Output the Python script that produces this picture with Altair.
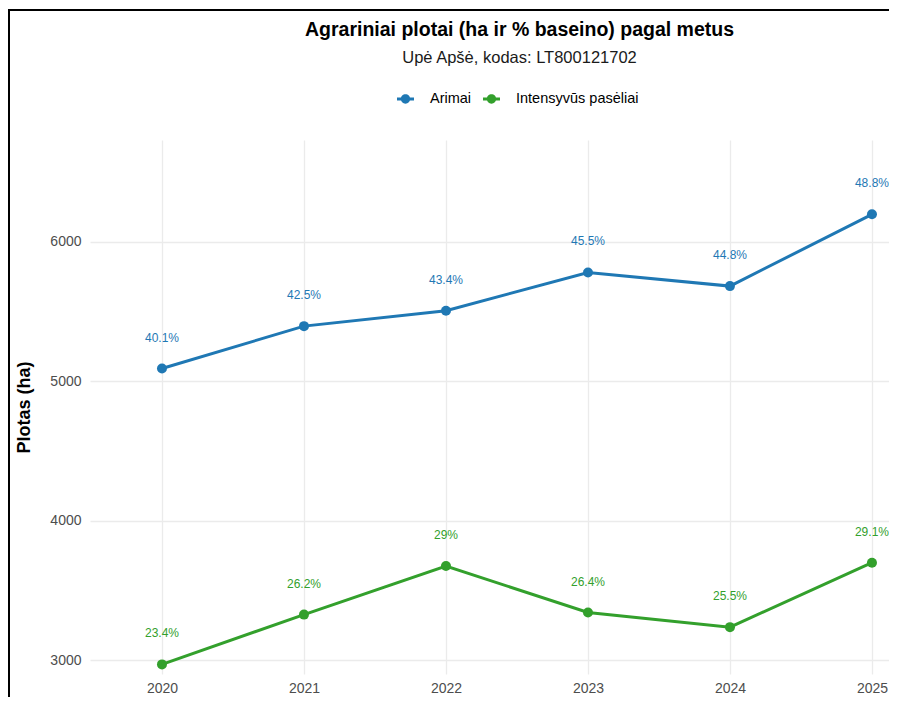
import altair as alt
import pandas as pd

# ---- data ----
years = [2020, 2021, 2022, 2023, 2024, 2025]
arimai_ha = [5091, 5395, 5505, 5780, 5682, 6197]
intensyvus_ha = [2969, 3326, 3674, 3341, 3236, 3698]
arimai_pct = ["40.1%", "42.5%", "43.4%", "45.5%", "44.8%", "48.8%"]
intensyvus_pct = ["23.4%", "26.2%", "29%", "26.4%", "25.5%", "29.1%"]
series = ["Arimai", "Intensyvūs pasėliai"]
colors = ["#1F78B4", "#33A02C"]
y_ticks = [3000, 4000, 5000, 6000]

rows = []
for i, yr in enumerate(years):
    rows.append({"Metai": yr, "Plotas": arimai_ha[i], "Proc": arimai_pct[i], "Tipas": series[0]})
for i, yr in enumerate(years):
    rows.append({"Metai": yr, "Plotas": intensyvus_ha[i], "Proc": intensyvus_pct[i], "Tipas": series[1]})
df = pd.DataFrame(rows)

FONT = "Liberation Sans"
PLOT_W = 799
PLOT_H = 534

legend_path = ("M-1,-0.18L1,-0.18L1,0.18L-1,0.18Z "
               "M0.55,0A0.55,0.55,0,1,1,-0.55,0A0.55,0.55,0,1,1,0.55,0Z")

x_enc = alt.X(
    "Metai:Q",
    scale=alt.Scale(domain=[2019.493, 2025.12], nice=False, zero=False),
    axis=alt.Axis(values=years, format="d", title=None, labelPadding=7),
)
y_enc = alt.Y(
    "Plotas:Q",
    scale=alt.Scale(domain=[2900, 6730], nice=False, zero=False),
    axis=alt.Axis(
        values=y_ticks, format="d", title="Plotas (ha)", labelPadding=9,
        titleX=-66, titleY=267, titleAngle=270, titleAlign="center",
        titleBaseline="middle",
    ),
)
color_scale = alt.Scale(domain=series, range=colors)

base = alt.Chart(df)

layers = []
# points carry the (only) legend
points = base.mark_point(filled=True, size=100, opacity=1).encode(
    x=x_enc, y=y_enc,
    color=alt.Color(
        "Tipas:N", scale=color_scale,
        legend=alt.Legend(
            title=None, orient="none", legendX=307, legendY=-49.5,
            direction="horizontal", symbolType=legend_path, symbolSize=289,
            symbolStrokeWidth=0, labelFont=FONT, labelFontSize=14.5,
            labelColor="#000000", columnPadding=11, labelOffset=16,
        ),
    ),
)
layers.append(points)
for name, col in zip(series, colors):
    sub = base.transform_filter(alt.datum.Tipas == name)
    layers.append(sub.mark_line(strokeWidth=3, color=col).encode(x=x_enc, y=y_enc))
    layers.append(
        sub.mark_text(fontSize=12, font=FONT, dy=-31, baseline="middle", color=col)
        .encode(x=x_enc, y=y_enc, text="Proc:N")
    )

frame_df = pd.DataFrame({"k": [0]})
frame_left = alt.Chart(frame_df).mark_rule(color="#000000", strokeWidth=2).encode(
    x=alt.value(-81), y=alt.value(-130), y2=alt.value(600)
)
frame_top = alt.Chart(frame_df).mark_rule(color="#000000", strokeWidth=2).encode(
    x=alt.value(-82), x2=alt.value(PLOT_W + 10), y=alt.value(-130)
)
layers += [frame_left, frame_top]

chart = alt.layer(*layers).properties(
    width=PLOT_W,
    height=PLOT_H,
    background="#FFFFFF",
    autosize=alt.AutoSizeParams(type="none"),
    padding={"left": 82, "top": 132, "right": 0, "bottom": 23},
    title=alt.TitleParams(
        text="Agrariniai plotai (ha ir % baseino) pagal metus",
        subtitle="Upė Apšė, kodas: LT800121702",
        anchor="middle", frame="group", dx=30, offset=-58.5,
        font=FONT, fontSize=19.5, fontWeight="bold", color="#000000",
        subtitleFont=FONT, subtitleFontSize=16.5, subtitleColor="#1a1a1a",
        subtitlePadding=10,
    ),
).configure_view(stroke=None).configure_axis(
    domain=False, ticks=False, grid=True, gridColor="#EBEBEB", gridWidth=1.3,
    labelFont=FONT, labelFontSize=14, labelColor="#4D4D4D",
    titleFont=FONT, titleFontSize=18, titleFontWeight="bold", titleColor="#000000",
)

chart.save("out.html", embed_options={"renderer": "svg", "actions": False})
